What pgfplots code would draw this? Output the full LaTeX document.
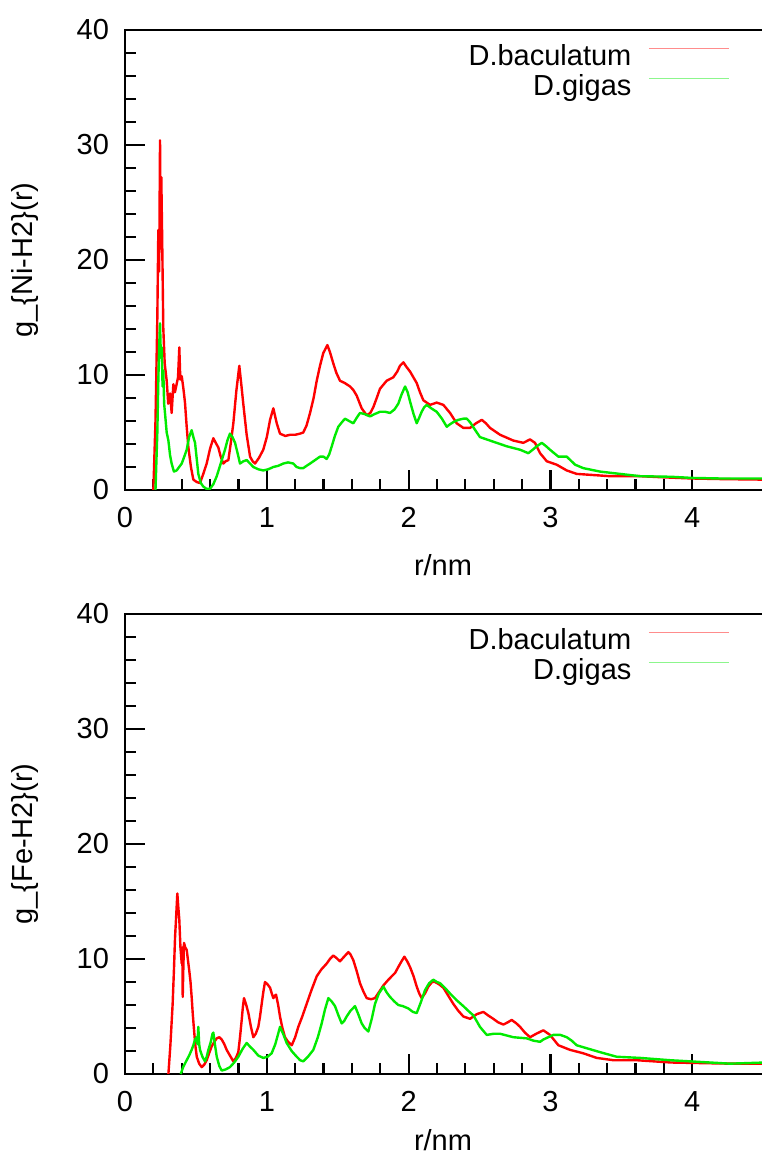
\documentclass[border=0pt]{standalone}
\usepackage{fontspec}
\setmainfont{Liberation Sans}
\usepackage{pgfplots}
\pgfplotsset{compat=1.18}

\definecolor{rdfred}{RGB}{255,0,0}
\definecolor{rdfgreen}{RGB}{0,235,0}

\pgfplotsset{
  rdf/.style={
    scale only axis, width=320pt, height=230pt,
    xmin=0, xmax=4.513, ymin=0, ymax=40,
    axis line style={line width=1pt},
    xtick pos=bottom, ytick pos=left,
    xtick={0,1,2,3,4}, ytick={0,10,20,30,40},
    minor x tick num=4, minor y tick num=4,
    tick align=inside, major tick length=10pt, minor tick length=5.5pt,
    tick style={line width=1.1pt, black},
    /pgf/number format/assume math mode=true,
    tick label style={font=\fontsize{14.5}{17}\selectfont},
    yticklabel style={xshift=-4.5pt},
    xticklabel style={yshift=-5.3pt},
    label style={font=\fontsize{14.5}{17}\selectfont},
    xlabel={r/nm},
    xlabel style={at={(axis description cs:0.5,0)}, anchor=center, xshift=-1pt, yshift=-37.5pt},
    ylabel style={at={(axis description cs:-0.156,0.5)}, anchor=center},
    legend plot pos=right, legend cell align=right,
    legend image code/.code={\draw[#1, line width=0.5pt, opacity=0.45] (0pt,5pt) -- (40pt,5pt);},
    legend style={draw=none, fill=none, at={(rel axis cs:0.945,0.972)}, anchor=north east,
      font=\fontsize{14.5}{17}\selectfont, inner sep=0pt, column sep=7.5pt, row sep=0pt,
      nodes={inner sep=1pt, text height=10pt, text depth=3pt}},
  },
  gr/.style={line width=1.2pt, line join=round},
}

\begin{document}
\begin{tikzpicture}

% Ni-H2
\begin{axis}[rdf, at={(0pt,0pt)}, anchor=south west, ylabel={g\_\{Ni-H2\}(r)}]
\addplot[gr, rdfred] coordinates {
(0.200,0) (0.215,6) (0.228,15) (0.235,22.6) (0.241,19) (0.247,30.4) (0.251,21) (0.256,27.2)
(0.262,22) (0.270,14.1) (0.280,11) (0.294,9.5) (0.305,7.5) (0.318,8.4) (0.329,6.7) (0.341,9.2)
(0.352,8.5) (0.364,9.2) (0.374,9.8) (0.383,12.4) (0.390,9.6) (0.400,9.9) (0.412,8.8) (0.423,7.6)
(0.435,5.5) (0.447,3.7) (0.465,2.0) (0.482,0.9) (0.505,0.7) (0.529,0.6) (0.552,1.4) (0.576,2.3)
(0.600,3.6) (0.623,4.5) (0.640,4.1) (0.658,3.7) (0.675,2.9) (0.693,2.3) (0.710,2.5) (0.729,2.6)
(0.745,4.0) (0.764,5.8) (0.785,8.6) (0.806,10.8) (0.820,9.2) (0.834,7.5) (0.858,4.8) (0.882,2.9)
(0.900,2.5) (0.917,2.3) (0.945,2.8) (0.975,3.5) (1.000,4.6) (1.023,6.1) (1.046,7.1) (1.070,5.8)
(1.093,4.9) (1.130,4.7) (1.164,4.8) (1.200,4.8) (1.234,4.9) (1.257,5.0) (1.280,5.6) (1.305,6.7)
(1.330,8.0) (1.352,9.5) (1.375,10.8) (1.398,11.9) (1.427,12.6) (1.445,12.0) (1.469,11.0) (1.490,10.2)
(1.516,9.5) (1.550,9.3) (1.587,9.0) (1.610,8.7) (1.634,8.2) (1.669,7.1) (1.704,6.5) (1.730,6.7)
(1.751,7.2) (1.775,8.0) (1.798,8.8) (1.845,9.5) (1.892,9.8) (1.920,10.3) (1.939,10.8) (1.963,11.1)
(1.985,10.7) (2.010,10.3) (2.057,9.3) (2.080,8.5) (2.104,7.8) (2.151,7.4) (2.198,7.6) (2.245,7.4)
(2.292,6.7) (2.339,5.8) (2.386,5.4) (2.433,5.4) (2.475,5.8) (2.516,6.1) (2.545,5.8) (2.574,5.4)
(2.645,4.8) (2.738,4.3) (2.809,4.1) (2.856,4.4) (2.891,4.1) (2.927,3.2) (2.974,2.5) (3.044,2.2)
(3.115,1.7) (3.185,1.4) (3.303,1.3) (3.420,1.2) (3.632,1.2) (3.800,1.1) (4.000,1.0) (4.200,0.95)
(4.513,0.9)
};
\addlegendentry{D.baculatum}
\addplot[gr, rdfgreen] coordinates {
(0.215,0) (0.228,5) (0.235,9.5) (0.241,12.5) (0.247,14.5) (0.253,11.5) (0.259,12.4) (0.265,9)
(0.270,10.4) (0.276,7.5) (0.282,6.7) (0.294,5.0) (0.306,4.3) (0.318,3.0) (0.329,2.3) (0.345,1.6)
(0.364,1.7) (0.382,2.0) (0.400,2.3) (0.418,2.9) (0.435,3.5) (0.452,4.6) (0.470,5.2) (0.482,4.6)
(0.494,4.1) (0.505,2.8) (0.517,1.4) (0.535,0.6) (0.552,0.3) (0.575,0.1) (0.599,0.1) (0.623,0.5)
(0.647,1.2) (0.675,2.3) (0.705,3.5) (0.722,4.3) (0.740,4.9) (0.758,4.6) (0.776,4.1) (0.794,3.2)
(0.811,2.3) (0.835,2.5) (0.858,2.6) (0.882,2.3) (0.905,2.0) (0.940,1.8) (0.975,1.7) (1.010,1.8)
(1.046,2.0) (1.080,2.1) (1.116,2.3) (1.150,2.4) (1.187,2.3) (1.210,2.0) (1.234,1.9) (1.257,1.9)
(1.280,2.1) (1.305,2.3) (1.340,2.6) (1.375,2.9) (1.400,2.9) (1.422,2.7) (1.440,3.1) (1.458,3.8)
(1.480,4.7) (1.504,5.5) (1.530,5.9) (1.551,6.2) (1.580,6.0) (1.610,5.8) (1.635,6.3) (1.657,6.7)
(1.690,6.6) (1.728,6.4) (1.760,6.6) (1.798,6.8) (1.835,6.8) (1.869,6.7) (1.900,7.0) (1.927,7.5)
(1.950,8.3) (1.975,9.0) (1.993,8.5) (2.010,7.7) (2.035,6.6) (2.057,5.8) (2.075,6.3) (2.092,6.8)
(2.110,7.2) (2.128,7.4) (2.160,7.1) (2.198,6.8) (2.235,6.2) (2.269,5.5) (2.290,5.7) (2.315,5.9)
(2.350,6.1) (2.386,6.2) (2.410,6.2) (2.433,5.9) (2.470,5.2) (2.503,4.6) (2.550,4.4) (2.597,4.2)
(2.692,3.8) (2.786,3.5) (2.844,3.2) (2.875,3.5) (2.903,3.8) (2.939,4.1) (2.970,3.8) (2.997,3.5)
(3.056,2.9) (3.115,2.9) (3.174,2.2) (3.232,1.9) (3.350,1.6) (3.491,1.4) (3.632,1.2) (3.850,1.15)
(4.000,1.05) (4.200,1.0) (4.513,1.0)
};
\addlegendentry{D.gigas}
\end{axis}

% Fe-H2
\begin{axis}[rdf, at={(0pt,-292pt)}, anchor=south west, ylabel={g\_\{Fe-H2\}(r)},
  xlabel style={yshift=4.5pt}]
\addplot[gr, rdfred] coordinates {
(0.306,0) (0.320,2.5) (0.336,6.1) (0.345,9) (0.353,11.9) (0.362,14) (0.369,15.7) (0.376,14.5)
(0.383,13.4) (0.391,11) (0.400,9.6) (0.404,11) (0.407,6.7) (0.411,9) (0.416,11.4) (0.425,11.0)
(0.435,10.8) (0.445,9.8) (0.453,9.0) (0.462,8.0) (0.470,6.7) (0.478,5.2) (0.487,3.8) (0.496,2.5)
(0.506,1.5) (0.523,0.9) (0.541,0.6) (0.558,0.8) (0.576,1.2) (0.593,1.8) (0.611,2.4) (0.630,2.8)
(0.647,3.1) (0.665,3.2) (0.682,3.0) (0.700,2.6) (0.717,2.1) (0.740,1.6) (0.764,1.1) (0.782,1.4)
(0.799,1.9) (0.811,3.2) (0.823,4.7) (0.831,5.8) (0.839,6.6) (0.855,6.0) (0.870,5.3) (0.888,4.1)
(0.905,3.2) (0.922,3.5) (0.940,4.1) (0.952,5.0) (0.964,6.1) (0.975,7.1) (0.987,8.0) (1.005,7.8)
(1.023,7.5) (1.035,7.0) (1.046,6.6) (1.056,6.8) (1.065,6.9) (1.080,6.0) (1.093,5.0) (1.110,4.0)
(1.128,3.2) (1.150,2.8) (1.176,2.5) (1.200,3.2) (1.222,4.1) (1.250,5.0) (1.281,6.1) (1.315,7.3)
(1.352,8.5) (1.385,9.1) (1.422,9.6) (1.445,10.0) (1.469,10.3) (1.490,10.1) (1.516,9.8) (1.545,10.2)
(1.575,10.6) (1.590,10.4) (1.610,9.9) (1.635,8.9) (1.657,7.9) (1.680,7.2) (1.704,6.6) (1.735,6.5)
(1.763,6.6) (1.795,7.2) (1.822,7.7) (1.850,8.1) (1.881,8.5) (1.905,8.8) (1.927,9.3) (1.950,9.8)
(1.970,10.2) (1.990,9.8) (2.010,9.3) (2.035,8.5) (2.057,7.6) (2.075,7.0) (2.092,6.6) (2.115,7.0)
(2.139,7.6) (2.165,8.0) (2.186,8.0) (2.215,7.8) (2.245,7.5) (2.280,6.8) (2.315,6.1) (2.350,5.5)
(2.386,5.0) (2.433,4.8) (2.480,5.2) (2.527,5.4) (2.560,5.1) (2.597,4.8) (2.630,4.5) (2.668,4.3)
(2.700,4.5) (2.727,4.7) (2.760,4.4) (2.786,4.1) (2.820,3.6) (2.856,3.2) (2.900,3.5) (2.950,3.8)
(2.997,3.4) (3.056,2.5) (3.138,2.1) (3.232,1.8) (3.326,1.4) (3.444,1.2) (3.608,1.2) (3.850,1.0)
(4.267,0.9) (4.513,0.9)
};
\addlegendentry{D.baculatum}
\addplot[gr, rdfgreen] coordinates {
(0.393,0) (0.410,0.6) (0.435,1.2) (0.452,1.6) (0.470,2.1) (0.482,2.5) (0.494,3.0) (0.505,3.2)
(0.511,2.6) (0.517,4.1) (0.523,2.6) (0.529,2.1) (0.546,1.5) (0.564,1.1) (0.576,1.5) (0.588,2.1)
(0.605,2.8) (0.617,3.5) (0.623,3.6) (0.635,2.5) (0.647,1.5) (0.665,0.7) (0.682,0.3) (0.710,0.4)
(0.740,0.6) (0.770,1.0) (0.799,1.5) (0.830,2.2) (0.858,2.7) (0.880,2.4) (0.905,2.1) (0.940,1.6)
(0.975,1.4) (1.005,1.5) (1.034,1.8) (1.060,2.6) (1.080,3.5) (1.093,4.1) (1.115,3.5) (1.140,2.7)
(1.175,2.0) (1.211,1.5) (1.235,1.2) (1.257,1.1) (1.290,1.5) (1.328,2.1) (1.360,3.2) (1.387,4.4)
(1.410,5.6) (1.434,6.6) (1.458,6.3) (1.481,5.9) (1.505,5.1) (1.528,4.4) (1.545,4.6) (1.563,5.0)
(1.590,5.5) (1.622,5.9) (1.645,5.2) (1.669,4.4) (1.690,4.0) (1.716,3.7) (1.740,4.8) (1.763,6.1)
(1.790,7.0) (1.822,7.6) (1.845,7.1) (1.869,6.7) (1.900,6.3) (1.927,6.0) (1.960,5.9) (1.998,5.7)
(2.030,5.4) (2.057,5.3) (2.085,6.2) (2.116,7.3) (2.145,7.9) (2.174,8.2) (2.200,8.0) (2.221,7.9)
(2.255,7.5) (2.292,7.0) (2.340,6.4) (2.386,5.9) (2.420,5.5) (2.456,5.1) (2.480,4.6) (2.503,4.1)
(2.530,3.7) (2.551,3.4) (2.600,3.5) (2.645,3.5) (2.738,3.2) (2.833,3.1) (2.880,2.9) (2.927,2.8)
(2.950,3.0) (2.985,3.2) (3.020,3.4) (3.070,3.4) (3.115,3.2) (3.150,2.9) (3.185,2.5) (3.267,2.2)
(3.350,1.9) (3.467,1.5) (3.632,1.4) (3.843,1.2) (4.267,0.9) (4.513,1.0)
};
\addlegendentry{D.gigas}
\end{axis}

\pgfresetboundingbox
\path (-62.5pt,245pt) rectangle (318pt,-335pt);
\end{tikzpicture}
\end{document}
